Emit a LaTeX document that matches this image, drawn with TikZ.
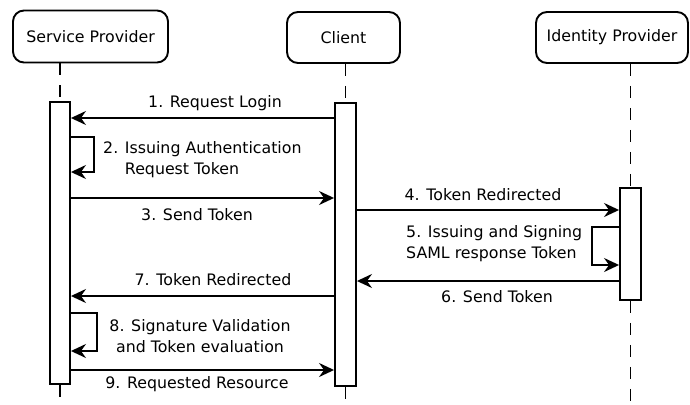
\documentclass[tikz,border=0pt]{standalone}
\usepackage{fontspec}
\setmainfont{DejaVu Sans}
\usetikzlibrary{arrows.meta}
\begin{document}
\begin{tikzpicture}[x=1pt,y=-1pt,
  actor/.style={draw,line width=1.9pt,rounded corners=11pt,inner sep=0pt},
  bar/.style={draw,line width=1.9pt,fill=white,inner sep=0pt,minimum width=20pt},
  life/.style={line width=1.3pt,dash pattern=on 12pt off 10pt},
  msg/.style={line width=1.9pt,-{Stealth[length=15pt,width=14pt,inset=5pt]}},
  lbl/.style={inner sep=0pt,font=\fontsize{15.8}{21}\selectfont}]
\useasboundingbox (0,0) rectangle (690,404);
\coordinate (bot) at (0,404);
% actors
\node[actor,minimum width=155pt,minimum height=52pt,lbl] (sp) at (90.5,36.5) {Service Provider};
\node[actor,minimum width=113pt,minimum height=51pt,lbl] (cl) at (343.5,37.5) {Client};
\node[actor,minimum width=152pt,minimum height=51pt,lbl] (idp) at (612,37.5) {Identity Provider};
% activation bars
\node[bar,minimum height=282pt] (spbar) at (60,243) {};
\node[bar,minimum width=21pt,minimum height=283pt] (clbar) at (345.5,244.5) {};
\node[bar,minimum width=21pt,minimum height=112pt] (idbar) at (630.5,244) {};
% lifelines
\draw[life] (spbar.north |- sp.south) -- (spbar.north);
\draw[life] (spbar.south) -- (spbar.south |- bot);
\draw[life] (clbar.north |- cl.south) -- (clbar.north);
\draw[life] (clbar.south) -- (clbar.south |- bot);
\draw[life] (idbar.north |- idp.south) -- (idbar.north);
\draw[life] (idbar.south) -- (idbar.south |- bot);
% 1
\draw[msg] (clbar.west |- 0,118) -- (spbar.east |- 0,118);
\node[lbl] (l1) at (215,103) {1. Request Login};
% 2
\draw[msg] (spbar.east |- 0,137) -| (94,172) -- (spbar.east |- 0,172);
\node[lbl,align=left,anchor=north west] (l2) at (103,141) {2. Issuing Authentication\\\phantom{2. }Request Token};
% 3
\draw[msg] (spbar.east |- 0,198) -- (clbar.west |- 0,198);
\node[lbl] (l3) at (197,215) {3. Send Token};
% 4
\draw[msg] (clbar.east |- 0,210) -- (idbar.west |- 0,210);
\node[lbl] (l4) at (483,195) {4. Token Redirected};
% 5
\draw[msg] (idbar.west |- 0,227) -| (592,265) -- (idbar.west |- 0,265);
\node[lbl,align=left,anchor=north west] (l5) at (406,225) {5. Issuing and Signing\\SAML response Token};
% 6
\draw[msg] (idbar.west |- 0,281) -- (clbar.east |- 0,281);
\node[lbl] (l6) at (497,297) {6. Send Token};
% 7
\draw[msg] (clbar.west |- 0,296) -- (spbar.east |- 0,296);
\node[lbl] (l7) at (213,280) {7. Token Redirected};
% 8
\draw[msg] (spbar.east |- 0,313) -| (97,351) -- (spbar.east |- 0,351);
\node[lbl,align=center] (l8) at (200,336) {8. Signature Validation\\and Token evaluation};
% 9
\draw[msg] (spbar.east |- 0,370) -- (clbar.west |- 0,370);
\node[lbl] (l9) at (197,384) {9. Requested Resource};
\end{tikzpicture}
\end{document}
